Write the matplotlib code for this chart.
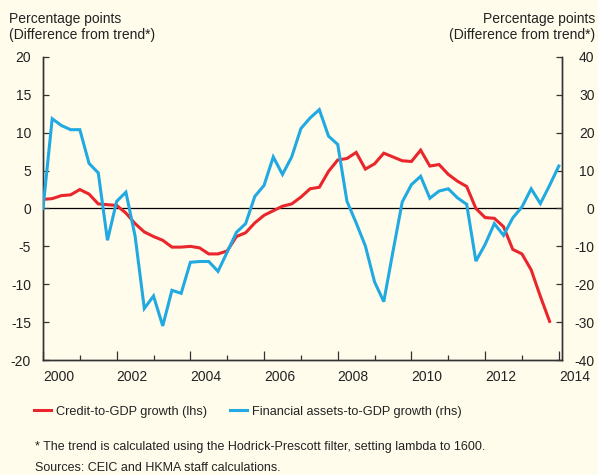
import matplotlib.pyplot as plt
from matplotlib.lines import Line2D
from matplotlib.ticker import FixedLocator

plt.rcParams['font.family'] = ['Liberation Sans', 'DejaVu Sans']

# quarterly, first point 2000 Q1
credit = [1.2, 1.3, 1.7, 1.8, 2.5, 1.9, 0.6, 0.5, 0.4, -0.6,
          -2.0, -3.1, -3.7, -4.2, -5.1, -5.1, -5.0, -5.2, -6.0, -6.0,
          -5.6, -3.7, -3.2, -1.9, -0.9, -0.3, 0.3, 0.6, 1.5, 2.6,
          2.8, 4.9, 6.4, 6.6, 7.4, 5.2, 5.9, 7.3, 6.8, 6.3,
          6.2, 7.7, 5.6, 5.8, 4.5, 3.6, 2.9, 0.0, -1.2, -1.3,
          -2.4, -5.4, -6.0, -8.1, -11.6, -14.9]
fin_assets = [0.0, 23.7, 21.9, 20.8, 20.8, 11.9, 9.4, -8.4, 1.9, 4.3,
              -7.3, -26.4, -23.1, -31.0, -21.6, -22.4, -14.2, -14.0, -14.0, -16.6,
              -11.5, -6.3, -4.0, 3.2, 6.1, 13.6, 9.0, 13.6, 21.1, 23.9,
              26.1, 19.1, 16.9, 1.9, -3.8, -9.9, -19.4, -24.6, -11.3, 1.7,
              6.3, 8.5, 2.7, 4.6, 5.2, 2.8, 1.1, -13.9, -9.5, -4.0,
              -7.1, -2.5, 0.4, 5.2, 1.3, 6.1, 11.2]
x_credit = [2000 + i / 4 for i in range(len(credit))]
x_fin = [2000 + i / 4 for i in range(len(fin_assets))]

years = [2000, 2002, 2004, 2006, 2008, 2010, 2012, 2014]
lhs_ticks = [-20, -15, -10, -5, 0, 5, 10, 15, 20]
rhs_ticks = [-40, -30, -20, -10, 0, 10, 20, 30, 40]

bg = '#fffcec'
red = '#e8262b'
blue = '#21a9e1'
axc = '#333333'
txt = '#222222'

fig = plt.figure(figsize=(5.98, 4.75), dpi=100, facecolor=bg)
ax = fig.add_axes([0.0719, 0.2421, 0.8687, 0.638])
ax.set_facecolor(bg)
ax2 = ax.twinx()

ax.axhline(0, color='black', lw=0.9, zorder=1)
ax.plot(x_credit, credit, color=red, lw=2.2, solid_joinstyle='miter', zorder=3)
ax2.plot(x_fin, fin_assets, color=blue, lw=2.2, solid_joinstyle='miter', zorder=3)

ax.set_xlim(2000, 2014.1)
ax.set_ylim(-20, 20)
ax2.set_ylim(-40, 40)

ax.xaxis.set_minor_locator(FixedLocator([2001, 2003, 2005, 2007, 2009, 2011, 2013]))
ax.set_xticks(years)
ax.set_xticklabels([str(y) for y in years], ha='left')
ax.set_yticks(lhs_ticks)
ax.set_yticklabels([str(v) for v in lhs_ticks])
ax2.set_yticks(rhs_ticks)
ax2.set_yticklabels([str(v) for v in rhs_ticks], ha='right')

ax.tick_params(axis='x', which='major', direction='in', length=6.5, width=0.9,
               color=axc, labelsize=10, pad=7, labelcolor=txt)
ax.tick_params(axis='x', which='minor', direction='in', length=3.6, width=0.9, color=axc)
ax.tick_params(axis='y', direction='in', length=4.5, width=0.9, color=axc,
               labelsize=10, pad=8.6, labelcolor=txt)
ax2.tick_params(axis='y', direction='in', length=4.5, width=0.9, color=axc,
                labelsize=10, pad=23, labelcolor=txt)

for a in (ax, ax2):
    a.spines['top'].set_visible(False)
    for s in ('left', 'right', 'bottom'):
        a.spines[s].set_color(axc)
        a.spines[s].set_linewidth(1.0)

fig.text(0.015, 0.96, 'Percentage points', fontsize=10, color=txt, va='center')
fig.text(0.015, 0.926, '(Difference from trend*)', fontsize=10, color=txt, va='center')
fig.text(0.995, 0.96, 'Percentage points', fontsize=10, color=txt, va='center', ha='right')
fig.text(0.995, 0.926, '(Difference from trend*)', fontsize=10, color=txt, va='center', ha='right')

handles = [Line2D([], [], color=red, lw=2.2), Line2D([], [], color=blue, lw=2.2)]
fig.legend(handles, ['Credit-to-GDP growth (lhs)', 'Financial assets-to-GDP growth (rhs)'],
           loc='center left', bbox_to_anchor=(0.057, 0.133), ncol=2, frameon=False,
           fontsize=9.2, handlelength=1.3, handletextpad=0.4, columnspacing=1.8,
           borderaxespad=0, borderpad=0, labelcolor=txt)

fig.text(0.058, 0.0526, '* The trend is calculated using the Hodrick-Prescott filter, setting lambda to 1600.',
         fontsize=9, color=txt, va='baseline')
fig.text(0.058, 0.0075, 'Sources: CEIC and HKMA staff calculations.',
         fontsize=9, color=txt, va='baseline')

fig.savefig('out.png', dpi=100, facecolor=bg)
